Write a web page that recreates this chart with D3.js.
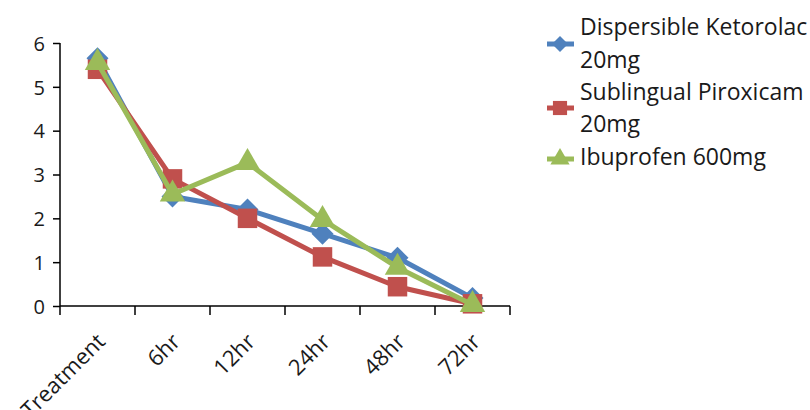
<!DOCTYPE html>
<html><head><meta charset="utf-8">
<script src="https://cdn.jsdelivr.net/npm/d3@7"></script>
<style>body{margin:0;background:#fff}svg{display:block}</style>
</head><body>
<svg id="c" width="810" height="410"></svg>
<script>
const categories = ["Treatment", "6hr", "12hr", "24hr", "48hr", "72hr"];
const seriesNames = ["Dispersible Ketorolac 20mg", "Sublingual Piroxicam 20mg", "Ibuprofen 600mg"];
const ketorolac = [5.65, 2.5, 2.2, 1.65, 1.1, 0.18];
const piroxicam = [5.4, 2.9, 2.0, 1.12, 0.44, 0.05];
const ibuprofen = [5.55, 2.55, 3.27, 1.97, 0.88, 0.03];
const yTicks = [0, 1, 2, 3, 4, 5, 6];
const colors = ["#4F81BD", "#C0504D", "#9BBB59"];
const shapes = ["diamond", "square", "triangle"];

const series = [ketorolac, piroxicam, ibuprofen];
const svg = d3.select("#c");
const font = "'Open Sans', sans-serif";

const x = d3.scaleBand().domain(categories).range([60, 510]);
const y = d3.scaleLinear().domain([0, 6]).range([306, 43]);

// axes
const yAxis = svg.append("g").attr("transform", "translate(60,0)")
  .call(d3.axisLeft(y).tickValues(yTicks).tickSize(7).tickPadding(8).tickFormat(d3.format("d")));
yAxis.select(".domain").attr("stroke", "#000").attr("stroke-width", 1.5).attr("d", "M0," + y(6) + "V" + y(0));
yAxis.selectAll(".tick line").attr("stroke", "#000").attr("stroke-width", 1.5);
yAxis.selectAll("text").attr("font-family", font).attr("font-size", 20).attr("fill", "#1a1a1a").attr("dy", "0.36em");

const xAxis = svg.append("g").attr("transform", "translate(0," + y(0) + ")");
xAxis.append("line").attr("x1", 60).attr("x2", 510).attr("stroke", "#000").attr("stroke-width", 1.5);
const edges = categories.map(c => x(c)).concat([x.range()[1]]);
xAxis.selectAll("line.tk").data(edges).join("line").attr("class", "tk")
  .attr("x1", d => d).attr("x2", d => d).attr("y1", 0).attr("y2", 9)
  .attr("stroke", "#000").attr("stroke-width", 1.5);
xAxis.selectAll("text").data(categories).join("text")
  .attr("transform", d => "translate(" + (x(d) + x.bandwidth() / 2 + 9) + ",37) rotate(-45)")
  .attr("text-anchor", "end")
  .attr("font-family", font).attr("font-size", 22).attr("fill", "#1a1a1a")
  .text(d => d);

const diamondPath = (r) => "M0," + (-r) + "L" + r + ",0L0," + r + "L" + (-r) + ",0Z";
const markerPath = {
  diamond: diamondPath(11),
  square: d3.symbol().type(d3.symbolSquare).size(380)(),
  triangle: d3.symbol().type(d3.symbolTriangle).size(280)()
};

const line = d3.line().x((d, i) => x(categories[i]) + x.bandwidth() / 2).y(d => y(d));
series.forEach((s, k) => {
  const g = svg.append("g");
  g.append("path").attr("d", line(s)).attr("fill", "none")
    .attr("stroke", colors[k]).attr("stroke-width", 5).attr("stroke-linejoin", "round");
  g.selectAll("path.m").data(s).join("path").attr("class", "m")
    .attr("transform", (d, i) => "translate(" + (x(categories[i]) + x.bandwidth() / 2) + "," + y(d) + ")")
    .attr("d", markerPath[shapes[k]]).attr("fill", colors[k]);
});

// legend
const legend = svg.append("g");
const legendRows = [
  { lines: ["Dispersible Ketorolac", "20mg"], ty: [27, 60], my: 44 },
  { lines: ["Sublingual Piroxicam", "20mg"], ty: [92, 124], my: 108 },
  { lines: ["Ibuprofen 600mg"], ty: [157], my: 159 }
];
const legendMarker = {
  diamond: diamondPath(8),
  square: d3.symbol().type(d3.symbolSquare).size(200)(),
  triangle: d3.symbol().type(d3.symbolTriangle).size(160)()
};
legendRows.forEach((r, k) => {
  legend.append("line").attr("x1", 547).attr("x2", 574).attr("y1", r.my).attr("y2", r.my)
    .attr("stroke", colors[k]).attr("stroke-width", 5);
  legend.append("path").attr("transform", "translate(560," + r.my + ")")
    .attr("d", legendMarker[shapes[k]]).attr("fill", colors[k]);
  r.lines.forEach((t, j) => {
    legend.append("text").attr("x", 580).attr("y", r.ty[j]).attr("dy", "0.36em")
      .attr("font-family", font).attr("font-size", 23).attr("fill", "#1a1a1a").text(t);
  });
});
</script>
</body></html>
